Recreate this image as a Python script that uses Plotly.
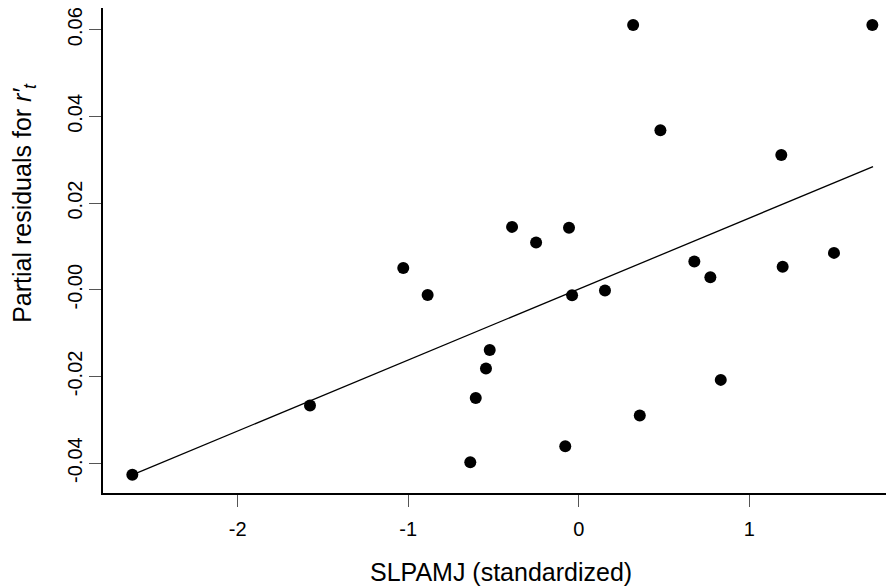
import plotly.graph_objects as go

# Data
slpamj = [-2.618, -1.576, -1.029, -0.886, -0.522, -0.544, -0.604, -0.636,
          0.319, 1.722, 0.479, 1.188, -0.391, -0.057, -0.250, -0.039,
          0.154, 0.678, 0.772, 1.196, 1.497, 0.833, 0.358, -0.079]
partial_resid = [-0.0427, -0.0267, 0.0050, -0.0012, -0.0139, -0.0182, -0.0250, -0.0398,
                 0.0611, 0.0611, 0.0368, 0.0311, 0.0145, 0.0143, 0.0109, -0.0013,
                 -0.0002, 0.0065, 0.0029, 0.0053, 0.0085, -0.0208, -0.0290, -0.0361]
fit_x = [-2.618, 1.726]
fit_y = [-0.0427, 0.0284]

x_tickvals = [-2, -1, 0, 1]
x_ticktext = ["-2", "-1", "0", "1"]
y_tickvals = [0.06, 0.04, 0.02, 0.0, -0.02, -0.04]
y_ticktext = ["0.06", "0.04", "0.02", "-0.00", "-0.02", "-0.04"]

FONT = "Liberation Sans, Arial, Helvetica, sans-serif"

fig = go.Figure()
fig.add_trace(go.Scatter(x=fit_x, y=fit_y, mode="lines",
                         line=dict(color="black", width=1.3),
                         hoverinfo="skip", showlegend=False))
fig.add_trace(go.Scatter(x=slpamj, y=partial_resid, mode="markers",
                         marker=dict(color="black", size=12),
                         showlegend=False))

# the page adds an 8px body margin, so the figure is 8px smaller than the window
fig.update_layout(
    width=886, height=579,
    margin=dict(l=95, r=0, t=0, b=94),
    paper_bgcolor="white", plot_bgcolor="white",
    font=dict(family=FONT, color="black"),
    xaxis=dict(range=[-2.79, 1.849], showgrid=False, zeroline=False,
               showline=True, linecolor="black", linewidth=2,
               ticks="outside", ticklen=12, tickwidth=1, tickcolor="#555",
               tickvals=x_tickvals, ticktext=x_ticktext,
               tickfont=dict(size=20, family=FONT, color="black"),
               ticklabelstandoff=5, automargin=False,
               ticklabeloverflow="allow"),
    yaxis=dict(range=[-0.0469, 0.0650], showgrid=False, zeroline=False,
               showline=True, linecolor="black", linewidth=2,
               ticks="outside", ticklen=12, tickwidth=1, tickcolor="#555",
               tickvals=y_tickvals, ticktext=y_ticktext, tickangle=-90,
               tickfont=dict(size=20, family=FONT, color="black"),
               ticklabelstandoff=-1, automargin=False,
               ticklabeloverflow="allow"),
    annotations=[
        dict(text="SLPAMJ (standardized)", xref="paper", yref="paper",
             x=0.503, y=-0.162, xanchor="center", yanchor="middle",
             showarrow=False, font=dict(size=25, family=FONT, color="black")),
        dict(text="Partial residuals for <i>r′</i><sub><i>t</i></sub>",
             xref="paper", yref="paper", x=-0.1, y=0.598,
             xanchor="center", yanchor="middle", textangle=-90,
             showarrow=False, font=dict(size=25, family=FONT, color="black")),
    ],
)

fig.write_html("out.html")
